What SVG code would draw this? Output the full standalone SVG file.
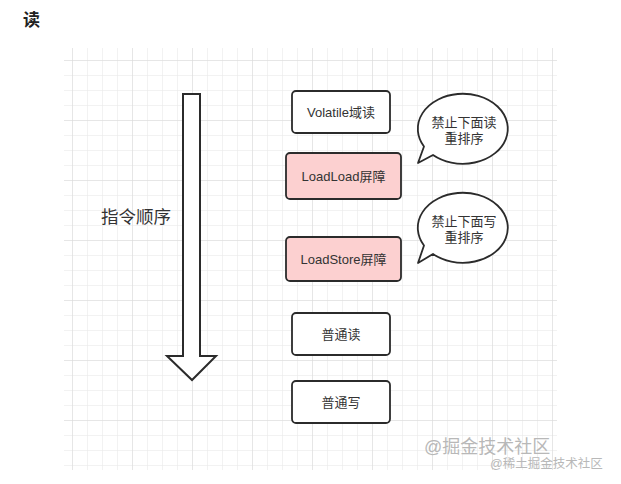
<svg xmlns="http://www.w3.org/2000/svg" width="621" height="484" viewBox="0 0 621 484">
<defs>
<pattern id="grid" x="72" y="60" width="15" height="15" patternUnits="userSpaceOnUse">
<path d="M0 0V15M0 0H15" fill="none" stroke="#e6e6e6" stroke-width="1"/>
</pattern>
<pattern id="gridMajor" x="72" y="60" width="60" height="60" patternUnits="userSpaceOnUse">
<path d="M0 0V60M0 0H60" fill="none" stroke="#d9d9d9" stroke-width="1"/>
</pattern>
</defs>
<style>
.box{fill:#ffffff;stroke:#2b2b2b;stroke-width:1.8}
.pink{fill:#fcd0d0;stroke:#2b2b2b;stroke-width:1.8}
.lbl{font-family:"Liberation Sans","Noto Sans CJK SC",sans-serif;font-size:13px;fill:#333;text-anchor:middle;dominant-baseline:central}
.bubble{fill:#ffffff;stroke:#2b2b2b;stroke-width:1.8;stroke-linejoin:round}
.wm{font-family:"Liberation Sans","Noto Sans CJK SC",sans-serif;fill:#b8b8b8}
</style>
<rect width="621" height="484" fill="#ffffff"/>
<text x="23" y="26" font-family="'Liberation Sans','Noto Sans CJK SC',sans-serif" font-size="17" font-weight="bold" fill="#222">读</text>
<rect x="64" y="48" width="493" height="422" fill="url(#grid)"/>
<rect x="64" y="48" width="493" height="422" fill="url(#gridMajor)"/>

<g id="arrow">
<polygon points="183,94 200,94 200,356 216,356 192,380 167,356 183,356" fill="#fff" stroke="#2b2b2b" stroke-width="2" stroke-linejoin="miter"/>
</g>
<g id="order-label">
<text x="136" y="217" font-family="'Liberation Sans','Noto Sans CJK SC',sans-serif" font-size="17.5" fill="#333" text-anchor="middle" dominant-baseline="central">指令顺序</text>
</g>

<g id="volatile-read">
<rect class="box" x="292" y="91" width="98" height="42" rx="4"/>
<text class="lbl" x="341" y="112">Volatile域读</text>
</g>
<g id="loadload">
<rect class="pink" x="286" y="153" width="115" height="46" rx="4"/>
<text class="lbl" x="343.5" y="176">LoadLoad屏障</text>
</g>
<g id="loadstore">
<rect class="pink" x="286" y="237" width="115" height="44" rx="4"/>
<text class="lbl" x="343.5" y="259">LoadStore屏障</text>
</g>
<g id="normal-read">
<rect class="box" x="292" y="313" width="98" height="42" rx="4"/>
<text class="lbl" x="341" y="334">普通读</text>
</g>
<g id="normal-write">
<rect class="box" x="292" y="381" width="98" height="42" rx="4"/>
<text class="lbl" x="341" y="402">普通写</text>
</g>

<g id="callout-read">
<path class="bubble" d="M424 146.5 L418 163 L433 155 A45 35 0 1 0 424 146.5 Z"/>
<text class="lbl" x="464" y="122">禁止下面读</text>
<text class="lbl" x="464" y="138">重排序</text>
</g>
<g id="callout-write">
<path class="bubble" d="M424 245.5 L418 263 L433 254 A45 35 0 1 0 424 245.5 Z"/>
<text class="lbl" x="464" y="221">禁止下面写</text>
<text class="lbl" x="464" y="237">重排序</text>
</g>

<g id="connectors"></g>

<text class="wm" x="424" y="453" font-size="18">@掘金技术社区</text>
<text class="wm" x="490" y="468" font-size="12.5" fill="#c0c0c0">@稀土掘金技术社区</text>
</svg>
